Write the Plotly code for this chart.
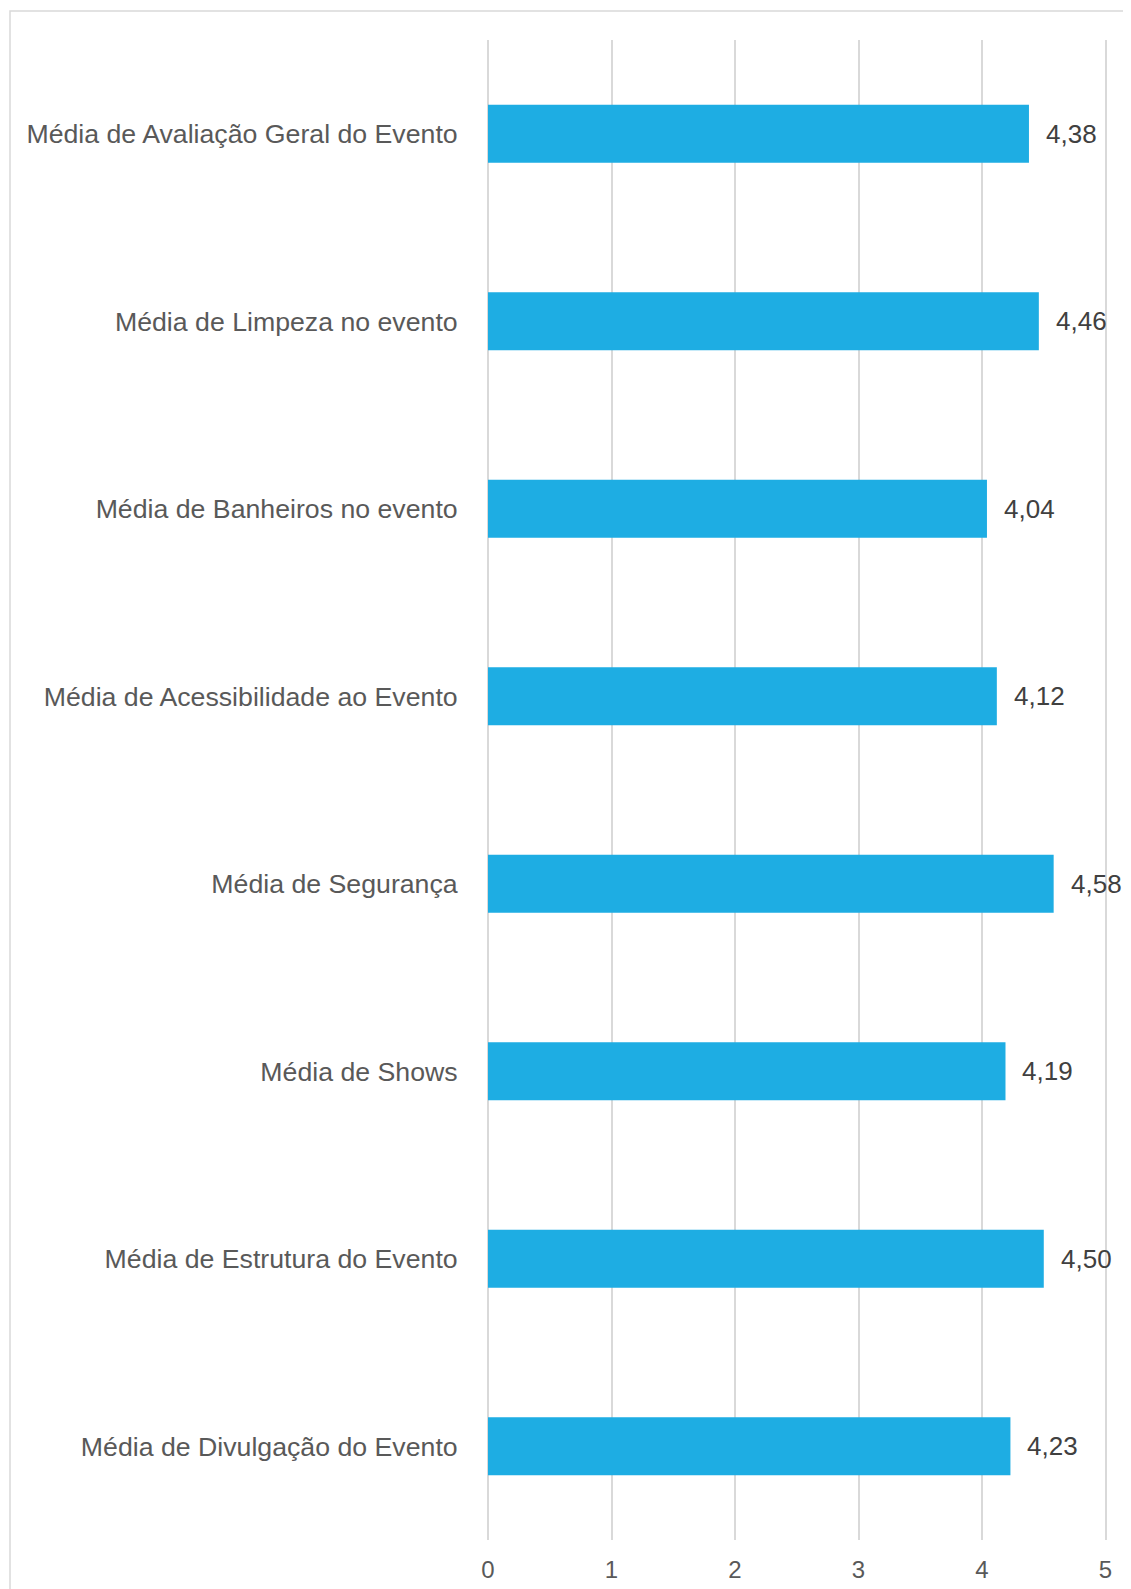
import plotly.graph_objects as go

categories = [
    "Média de Avaliação Geral do Evento",
    "Média de Limpeza no evento",
    "Média de Banheiros no evento",
    "Média de Acessibilidade ao Evento",
    "Média de Segurança",
    "Média de Shows",
    "Média de Estrutura do Evento",
    "Média de Divulgação do Evento",
]
values = [4.38, 4.46, 4.04, 4.12, 4.58, 4.19, 4.50, 4.23]
tick_vals = [0, 1, 2, 3, 4, 5]
tick_text = ["0", "1", "2", "3", "4", "5"]

# page body has an 8px default margin, so the figure is drawn 8px in
OFF = 8
XMAX = 5.02
W, H = 1131 - OFF, 1589 - OFF
L, T, B = 487.5 - OFF, 40 - OFF, 49
unit = 618.5 / 5.0
R = W - L - unit * XMAX
pw, ph = W - L - R, H - T - B

fig = go.Figure()
fig.add_trace(go.Bar(
    y=categories, x=values, orientation="h",
    marker=dict(color="#1EADE3", line=dict(width=0)),
    hoverinfo="skip",
))

for c, v in zip(categories, values):
    fig.add_annotation(
        x=v, y=c, xref="x", yref="y",
        text=f"{v:.2f}".replace(".", ","),
        showarrow=False, xanchor="left", xshift=15,
        font=dict(family="Liberation Sans, Arial, sans-serif", size=26, color="#404040"),
    )

# outer chart border (light gray)
fig.add_shape(
    type="rect", xref="paper", yref="paper",
    x0=(0.75 - L) / pw, x1=(1145 - L) / pw,
    y0=-(60) / ph, y1=1 + (T - 3) / ph,
    line=dict(color="#D9D9D9", width=1.5), fillcolor="rgba(0,0,0,0)",
    layer="below",
)

fig.update_layout(
    width=W, height=H,
    margin=dict(l=L, r=R, t=T, b=B, autoexpand=False),
    paper_bgcolor="white", plot_bgcolor="white",
    bargap=0.69,
    showlegend=False,
    font=dict(family="Liberation Sans, Arial, sans-serif", color="#595959"),
    xaxis=dict(
        range=[0, XMAX], tickvals=tick_vals, ticktext=tick_text,
        showgrid=True, gridcolor="#D9D9D9", gridwidth=2,
        zeroline=True, zerolinecolor="#D9D9D9", zerolinewidth=2,
        showline=False,
        tickfont=dict(size=24, color="#595959"),
        ticks="outside", ticklen=8, tickcolor="rgba(0,0,0,0)",
        fixedrange=True,
    ),
    yaxis=dict(
        categoryorder="array", categoryarray=categories[::-1],
        autorange=True,
        showgrid=False, zeroline=False, showline=False,
        tickfont=dict(size=26.7, color="#595959"),
        ticks="outside", ticklen=24, tickcolor="rgba(0,0,0,0)",
        fixedrange=True,
    ),
)

fig.write_html("out.html")
